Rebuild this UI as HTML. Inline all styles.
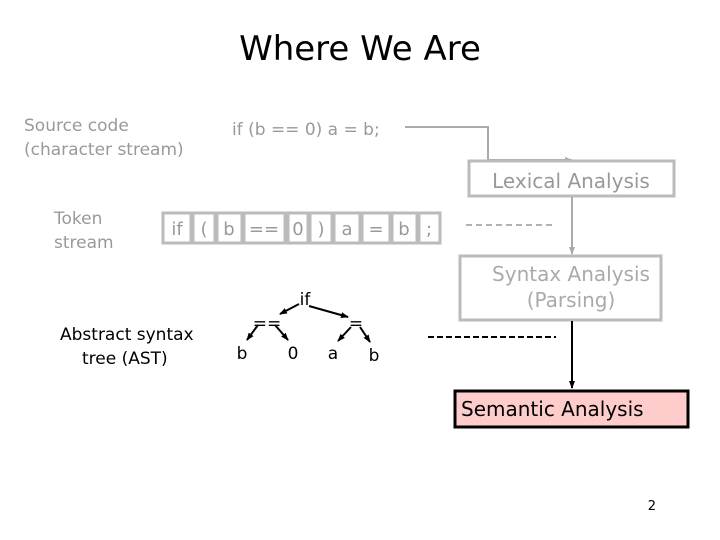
<!DOCTYPE html>
<html><head><meta charset="utf-8"><style>
html,body{margin:0;padding:0;background:#fff}
svg{display:block}
text{font-family:"DejaVu Sans","Liberation Sans",sans-serif}
</style></head><body>
<svg width="720" height="540" viewBox="0 0 720 540" xmlns="http://www.w3.org/2000/svg">
<defs>
<marker id="ag" markerWidth="8" markerHeight="8" refX="7" refY="4" orient="auto" markerUnits="userSpaceOnUse"><path d="M0,1 L8,4 L0,7Z" fill="#aaa"/></marker>
<marker id="ab" markerWidth="8" markerHeight="8" refX="7" refY="4" orient="auto" markerUnits="userSpaceOnUse"><path d="M0,1 L8,4 L0,7Z" fill="#000"/></marker>
</defs>
<text x="360" y="60" font-size="34" text-anchor="middle" fill="#000" font-family="Liberation Sans">Where We Are</text>
<g fill="#999" font-size="17">
<text x="24" y="131">Source code</text>
<text x="24" y="155">(character stream)</text>
<text x="232" y="135">if (b == 0) a = b;</text>
<text x="54" y="224">Token</text>
<text x="54" y="248">stream</text>
</g>
<g fill="#000" font-size="17">
<text x="60" y="340">Abstract syntax</text>
<text x="82" y="364">tree (AST)</text>
</g>
<!-- source to lexical -->
<polyline points="405,127 488,127 488,160 572,160" fill="none" stroke="#aaa" stroke-width="2" marker-end="url(#ag)"/>
<rect x="469" y="161" width="205" height="35" fill="#fff" stroke="#bbb" stroke-width="3"/>
<text x="571" y="188" font-size="20" fill="#999" text-anchor="middle">Lexical Analysis</text>
<line x1="572" y1="197" x2="572" y2="254" stroke="#aaa" stroke-width="2" marker-end="url(#ag)"/>
<rect x="460" y="256" width="201" height="64" fill="#fff" stroke="#bbb" stroke-width="3"/>
<text x="571" y="281" font-size="20" fill="#aaa" text-anchor="middle">Syntax Analysis</text>
<text x="571" y="307" font-size="20" fill="#aaa" text-anchor="middle">(Parsing)</text>
<line x1="572" y1="321" x2="572" y2="388" stroke="#000" stroke-width="2" marker-end="url(#ab)"/>
<rect x="455" y="391" width="233" height="36" fill="#fcc" stroke="#000" stroke-width="3"/>
<text x="461" y="416" font-size="20" fill="#000">Semantic Analysis</text>
<!-- tokens -->
<g fill="#fff" stroke="#bbb" stroke-width="3">
<rect x="163" y="213" width="28" height="30"/>
<rect x="193" y="213" width="22" height="30"/>
<rect x="217" y="213" width="25" height="30"/>
<rect x="244" y="213" width="41" height="30"/>
<rect x="288" y="213" width="20" height="30"/>
<rect x="310" y="213" width="22" height="30"/>
<rect x="334" y="213" width="26" height="30"/>
<rect x="362" y="213" width="28" height="30"/>
<rect x="392" y="213" width="25" height="30"/>
<rect x="419" y="213" width="21" height="30"/>
</g>
<g fill="#999" font-size="18" text-anchor="middle">
<text x="177" y="235">if</text><text x="204" y="235">(</text><text x="229" y="235">b</text>
<text x="264" y="235">==</text><text x="298" y="235">0</text><text x="321" y="235">)</text>
<text x="347" y="235">a</text><text x="376" y="235">=</text><text x="404" y="235">b</text><text x="429" y="235">;</text>
</g>
<line x1="466" y1="225" x2="556" y2="225" stroke="#999" stroke-width="1.5" stroke-dasharray="6,4"/>
<line x1="428" y1="337" x2="556" y2="337" stroke="#000" stroke-width="2" stroke-dasharray="6,3"/>
<!-- tree -->
<g font-size="17" fill="#000" text-anchor="middle">
<text x="305" y="305">if</text>
<text x="267" y="329">==</text>
<text x="356" y="329">=</text>
<text x="242" y="359">b</text>
<text x="293" y="359">0</text>
<text x="333" y="359">a</text>
<text x="374" y="361">b</text>
</g>
<g stroke="#000" stroke-width="2">
<line x1="299" y1="304" x2="280" y2="314" marker-end="url(#ab)"/>
<line x1="309" y1="306" x2="348" y2="317" marker-end="url(#ab)"/>
<line x1="258" y1="325" x2="247" y2="340" marker-end="url(#ab)"/>
<line x1="275" y1="325" x2="288" y2="340" marker-end="url(#ab)"/>
<line x1="351" y1="327" x2="338" y2="341" marker-end="url(#ab)"/>
<line x1="360" y1="327" x2="370" y2="342" marker-end="url(#ab)"/>
</g>
<text x="656" y="510" font-size="13" fill="#000" text-anchor="end">2</text>
</svg>
</body></html>
